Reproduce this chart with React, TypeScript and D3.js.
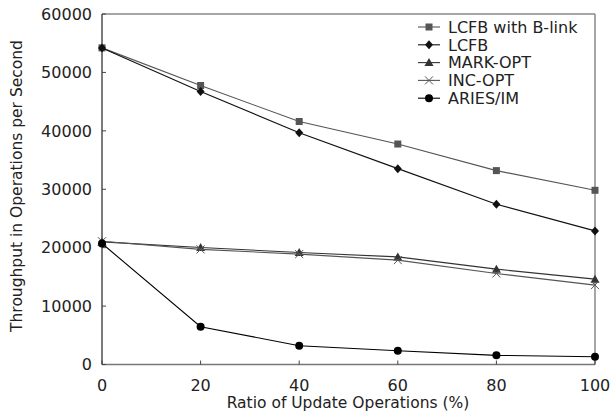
import React from "react";
import * as d3 from "d3";

const xValues = [0, 20, 40, 60, 80, 100];
const seriesNames = ["LCFB with B-link", "LCFB", "MARK-OPT", "INC-OPT", "ARIES/IM"];
const lcfbBlink = [54200, 47760, 41600, 37740, 33190, 29820];
const lcfb = [54200, 46740, 39680, 33530, 27430, 22870];
const markOpt = [20990, 20030, 19170, 18420, 16320, 14610];
const incOpt = [21100, 19700, 18900, 17860, 15580, 13590];
const ariesIm = [20710, 6460, 3210, 2360, 1570, 1330];
const yTicks = [0, 10000, 20000, 30000, 40000, 50000, 60000];
const xTicks = [0, 20, 40, 60, 80, 100];

const W = 612, H = 418;
const L = 102, R = 595, T = 14, B = 364.5;
const FONT = "DejaVu Sans";

type Marker = "square" | "diamond" | "triangle" | "x" | "circle";
const seriesData = [lcfbBlink, lcfb, markOpt, incOpt, ariesIm];
const markers: Marker[] = ["square", "diamond", "triangle", "x", "circle"];
const colors = ["#555", "#111", "#333", "#555", "#000"];

function MarkerShape({ type, x, y, color }: { type: Marker; x: number; y: number; color: string }) {
  switch (type) {
    case "square":
      return <rect x={x - 3.5} y={y - 3.5} width={7} height={7} fill={color} />;
    case "diamond":
      return <path d={`M${x},${y - 4.5}L${x + 4},${y}L${x},${y + 4.5}L${x - 4},${y}Z`} fill={color} />;
    case "triangle":
      return <path d={`M${x},${y - 4.5}L${x + 4.5},${y + 3.5}L${x - 4.5},${y + 3.5}Z`} fill={color} />;
    case "x":
      return <path d={`M${x - 4},${y - 4}L${x + 4},${y + 4}M${x - 4},${y + 4}L${x + 4},${y - 4}`} stroke={color} strokeWidth={1} fill="none" />;
    case "circle":
      return <circle cx={x} cy={y} r={4} fill={color} />;
  }
}

export default function App() {
  const x = d3.scaleLinear().domain([0, 100]).range([L, R]);
  const y = d3.scaleLinear().domain([0, 60000]).range([B, T]);
  const line = d3.line<number>().x((_, i) => x(xValues[i])).y((d) => y(d));

  const legX = 418, legY0 = 27, legDy = 17.8;

  return (
    <svg width={W} height={H} style={{ position: "absolute", left: 0, top: 0 }} fontFamily={FONT}>
      <rect x={0} y={0} width={W} height={H} fill="white" />
      {/* frame */}
      <line x1={L} y1={T} x2={R} y2={T} stroke="#888" strokeWidth={1.5} />
      <line x1={R} y1={T} x2={R} y2={B} stroke="#888" strokeWidth={1.5} />
      <line x1={L} y1={B} x2={R} y2={B} stroke="#777" strokeWidth={1.5} />
      <line x1={L} y1={T} x2={L} y2={B} stroke="#222" strokeWidth={1.2} />
      {/* ticks */}
      {yTicks.map((t) => (
        <g key={"y" + t}>
          <line x1={L} x2={L + 4} y1={y(t)} y2={y(t)} stroke="#444" />
          <text x={L - 10} y={y(t)} dy="0.36em" textAnchor="end" fontSize={16} fill="#222">{t}</text>
        </g>
      ))}
      {xTicks.map((t) => (
        <g key={"x" + t}>
          <line x1={x(t)} x2={x(t)} y1={B} y2={B - 4} stroke="#444" />
          <text x={x(t)} y={B + 26} textAnchor="middle" fontSize={16} fill="#222">{t}</text>
        </g>
      ))}
      <text x={348} y={408} textAnchor="middle" fontSize={15.5} fill="#222">Ratio of Update Operations (%)</text>
      <text transform={`translate(22,186) rotate(-90)`} textAnchor="middle" fontSize={15.5} fill="#222">Throughput in Operations per Second</text>
      {/* series */}
      {seriesData.map((s, si) => (
        <g key={si}>
          <path d={line(s) || ""} fill="none" stroke={colors[si]} strokeWidth={1.1} />
          {s.map((v, i) => (
            <MarkerShape key={i} type={markers[si]} x={x(xValues[i])} y={y(v)} color={colors[si]} />
          ))}
        </g>
      ))}
      {/* legend */}
      {seriesNames.map((n, i) => {
        const ly = legY0 + i * legDy;
        return (
          <g key={n}>
            <line x1={legX} x2={legX + 22} y1={ly} y2={ly} stroke={colors[i]} strokeWidth={1.1} />
            <MarkerShape type={markers[i]} x={legX + 11} y={ly} color={colors[i]} />
            <text x={448} y={ly} dy="0.36em" fontSize={16} fill="#222">{n}</text>
          </g>
        );
      })}
    </svg>
  );
}
